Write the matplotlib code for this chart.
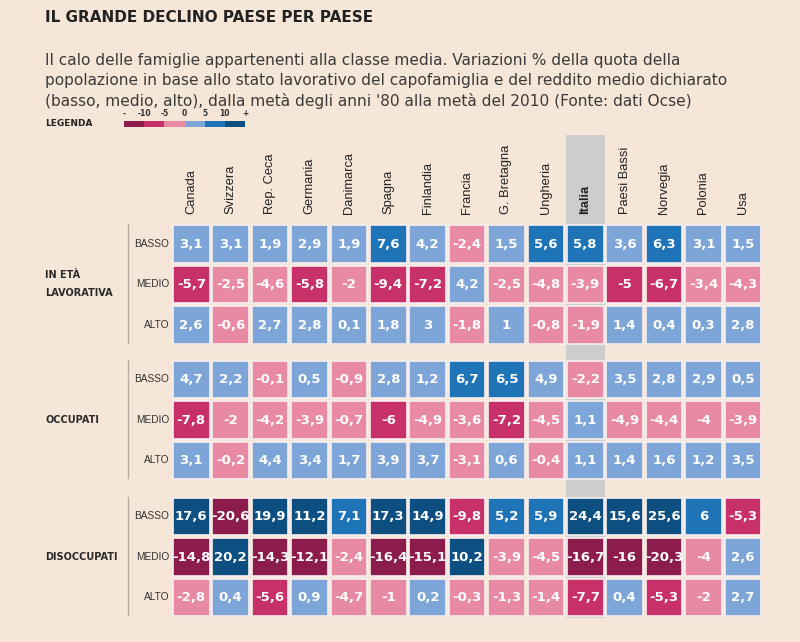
import matplotlib.pyplot as plt
from matplotlib.patches import Rectangle

countries = ['Canada', 'Svizzera', 'Rep. Ceca', 'Germania', 'Danimarca', 'Spagna',
             'Finlandia', 'Francia', 'G. Bretagna', 'Ungheria', 'Italia',
             'Paesi Bassi', 'Norvegia', 'Polonia', 'Usa']
groups = ['IN ETÀ\nLAVORATIVA', 'OCCUPATI', 'DISOCCUPATI']
levels = ['BASSO', 'MEDIO', 'ALTO']

lavorativa_basso = [3.1, 3.1, 1.9, 2.9, 1.9, 7.6, 4.2, -2.4, 1.5, 5.6, 5.8, 3.6, 6.3, 3.1, 1.5]
lavorativa_medio = [-5.7, -2.5, -4.6, -5.8, -2, -9.4, -7.2, 4.2, -2.5, -4.8, -3.9, -5, -6.7, -3.4, -4.3]
lavorativa_alto = [2.6, -0.6, 2.7, 2.8, 0.1, 1.8, 3, -1.8, 1, -0.8, -1.9, 1.4, 0.4, 0.3, 2.8]

occupati_basso = [4.7, 2.2, -0.1, 0.5, -0.9, 2.8, 1.2, 6.7, 6.5, 4.9, -2.2, 3.5, 2.8, 2.9, 0.5]
occupati_medio = [-7.8, -2, -4.2, -3.9, -0.7, -6, -4.9, -3.6, -7.2, -4.5, 1.1, -4.9, -4.4, -4, -3.9]
occupati_alto = [3.1, -0.2, 4.4, 3.4, 1.7, 3.9, 3.7, -3.1, 0.6, -0.4, 1.1, 1.4, 1.6, 1.2, 3.5]

disoccupati_basso = [17.6, -20.6, 19.9, 11.2, 7.1, 17.3, 14.9, -9.8, 5.2, 5.9, 24.4, 15.6, 25.6, 6, -5.3]
disoccupati_medio = [-14.8, 20.2, -14.3, -12.1, -2.4, -16.4, -15.1, 10.2, -3.9, -4.5, -16.7, -16, -20.3, -4, 2.6]
disoccupati_alto = [-2.8, 0.4, -5.6, 0.9, -4.7, -1, 0.2, -0.3, -1.3, -1.4, -7.7, 0.4, -5.3, -2, 2.7]

legend_labels = ['-', '-10', '-5', '0', '5', '10', '+']

table = [
    [lavorativa_basso, lavorativa_medio, lavorativa_alto],
    [occupati_basso, occupati_medio, occupati_alto],
    [disoccupati_basso, disoccupati_medio, disoccupati_alto],
]

BG = '#f5e6d8'
COLS = ['#8c1c4c', '#c8306a', '#e98aa5', '#7da5d8', '#1f73b7', '#0d4f80']


def colour(v):
    if v > 10:
        return COLS[5]
    if v >= 5:
        return COLS[4]
    if v >= 0:
        return COLS[3]
    if v > -5:
        return COLS[2]
    if v > -10:
        return COLS[1]
    return COLS[0]


def fmt(v):
    return ('%g' % v).replace('.', ',')


fig = plt.figure(figsize=(8, 6.42), dpi=100, facecolor=BG)
ax = fig.add_axes([0, 0, 1, 1])
ax.set_xlim(0, 800)
ax.set_ylim(642, 0)
ax.axis('off')

ax.text(45, 18, 'IL GRANDE DECLINO PAESE PER PAESE', fontsize=11,
        fontweight='bold', color='#222222', va='center', ha='left')
sub_lines = ["Il calo delle famiglie appartenenti alla classe media. Variazioni % della quota della",
             "popolazione in base allo stato lavorativo del capofamiglia e del reddito medio dichiarato",
             "(basso, medio, alto), dalla metà degli anni '80 alla metà del 2010 (Fonte: dati Ocse)"]
for k, line in enumerate(sub_lines):
    ax.text(45, 60 + k * 20.5, line, fontsize=11.1, color='#3a3a3a', va='center', ha='left')

# legend
ax.text(45, 124, 'LEGENDA', fontsize=6.5, fontweight='bold', color='#222222', va='center')
lx0, lw_ = 124, 121
seg = lw_ / 6
for k in range(6):
    ax.add_patch(Rectangle((lx0 + k * seg, 121), seg, 6, color=COLS[k], lw=0))
for k, lab in enumerate(legend_labels):
    ax.text(lx0 + k * seg, 114, lab, fontsize=5.5, fontweight='bold', color='#333333',
            ha='center', va='center')

# layout
x0, step, cw = 173, 39.4, 36.5
row_step, ch = 40.5, 37.5
group_tops = [225, 360.5, 497.5]

# Italia highlight
ii = countries.index('Italia')
ax.add_patch(Rectangle((x0 + ii * step - 1.5, 135), cw + 3, 483, color='#cdcdcd', lw=0, zorder=0))

for i, name in enumerate(countries):
    ax.text(x0 + i * step + cw / 2, 214, name, rotation=90, fontsize=9.3,
            family='Liberation Sans', color='#222222', ha='center', va='bottom',
            fontweight='bold' if name == 'Italia' else 'normal')

for g, gname in enumerate(groups):
    top = group_tops[g]
    ax.plot([128, 128], [top - 1, top + 3 * row_step - 4], color='#b5aaa0', lw=1)
    ax.text(45, top + 1.5 * row_step - 1.5, gname, fontsize=7, fontweight='bold',
            color='#2a2a2a', ha='left', va='center', linespacing=2.0)
    for r, lev in enumerate(levels):
        y = top + r * row_step
        ax.text(169, y + ch / 2, lev, fontsize=7.3, family='Liberation Sans',
                color='#333333', ha='right', va='center')
        for i, v in enumerate(table[g][r]):
            x = x0 + i * step
            ax.add_patch(Rectangle((x, y), cw, ch, facecolor=colour(v),
                                   edgecolor='#f7eeee', lw=1.2, zorder=2))
            ax.text(x + cw / 2, y + ch / 2 + 0.5, fmt(v), fontsize=9.5, fontweight='bold',
                    color='white', ha='center', va='center', zorder=3)

fig.savefig('out.png', dpi=100, facecolor=BG)
